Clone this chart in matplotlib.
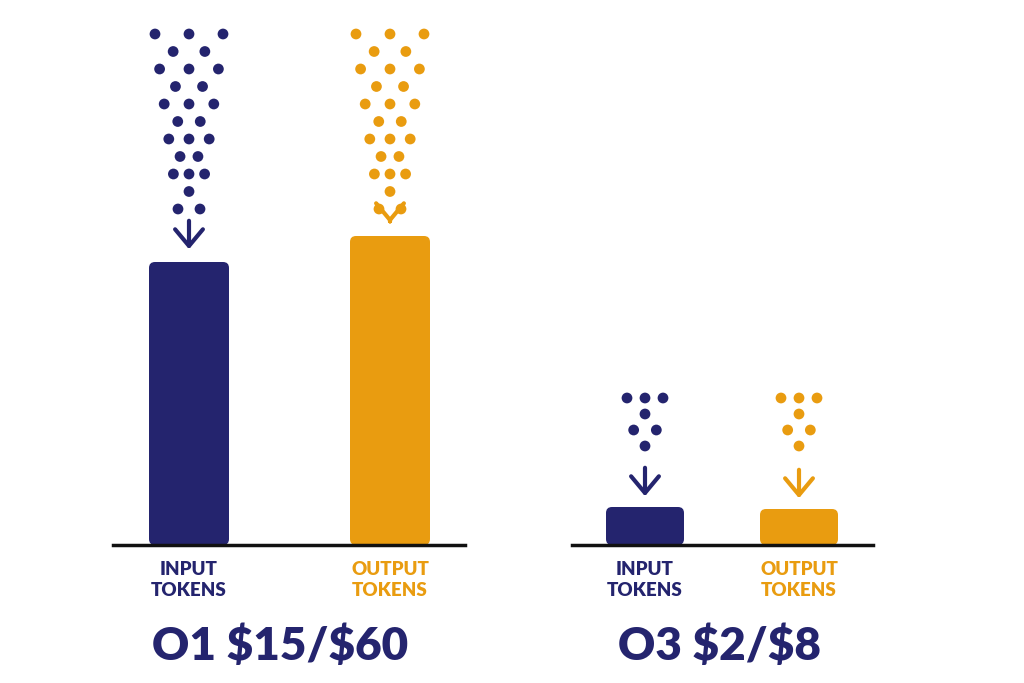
import matplotlib
matplotlib.use("Agg")
import matplotlib.pyplot as plt
import numpy as np
from matplotlib.patches import FancyBboxPatch, FancyArrowPatch

plt.rcParams["text.parse_math"] = False

groups = ["O1 $15/$60", "O3 $2/$8"]
categories = ["INPUT\nTOKENS", "OUTPUT\nTOKENS"]
# bar heights (pixel units above the baseline)
heights = {"O1 $15/$60": [283, 309], "O3 $2/$8": [38, 36]}

NAVY = "#24246e"
ORANGE = "#e99c10"
colors = [NAVY, ORANGE]

fig = plt.figure(figsize=(10.24, 6.83), dpi=100)
ax = fig.add_axes([0, 0, 1, 1])
ax.set_xlim(0, 1024)
ax.set_ylim(683, 0)
ax.axis("off")

base = 545
layout = {
    "O1 $15/$60": dict(line=(113, 465), centers=[189, 390], width=80, title_x=280),
    "O3 $2/$8": dict(line=(572, 873), centers=[645, 799], width=78, title_x=720),
}

def dots(cx, top, bottom, wtop, wbot, color, step=16):
    rows = int((bottom - top) / step) + 1
    for i in range(rows):
        y = top + i * step
        frac = i / max(rows - 1, 1)
        w = wtop + (wbot - wtop) * frac
        if i % 2 == 0:
            xs = [cx - w / 2, cx, cx + w / 2] if w > 30 else [cx - w / 2, cx + w / 2]
        else:
            xs = [cx - w / 4, cx + w / 4] if w > 30 else [cx]
        ax.scatter(xs, [y] * len(xs), s=60, color=color, edgecolors="none", zorder=3)

for g in groups:
    L = layout[g]
    ax.plot(L["line"], [base, base], color="#111111", lw=2.5, zorder=4)
    for c, h, col, lab in zip(L["centers"], heights[g], colors, categories):
        w = L["width"]
        top = base - h
        ax.add_patch(FancyBboxPatch((c - w / 2, top), w, h, boxstyle="round,pad=0,rounding_size=6",
                                    fc=col, ec="none", zorder=2))
        ax.text(c, 580, lab, ha="center", va="center", fontsize=13.5, fontweight="heavy",
                color=col, family="Lato", linespacing=1.3)
        if h > 100:
            dots(c, 34, 210, 68, 22, col, step=17.5)
            a0, a1 = 218, top - 10
        else:
            dots(c, 398, 460, 36, 16, col)
            a0, a1 = top - 42, top - 8
        ax.add_patch(FancyArrowPatch((c, a0), (c, a1), arrowstyle="->,head_length=0.6,head_width=0.5",
                                     color=col, lw=3, mutation_scale=20, zorder=3))
    ax.text(L["title_x"], 646, g, ha="center", va="center", fontsize=33, fontweight="heavy",
            color=NAVY, family="Lato")

fig.savefig("out.png", dpi=100, facecolor="white")
